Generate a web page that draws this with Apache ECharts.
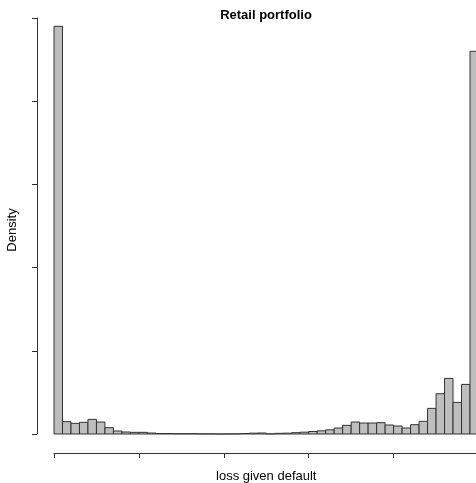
<!DOCTYPE html>
<html>
<head>
<meta charset="utf-8">
<script src="https://cdn.jsdelivr.net/npm/echarts@6/dist/echarts.min.js"></script>
<style>
  html, body { margin: 0; padding: 0; background: #fff; }
  #chart { width: 476px; height: 483px; }
</style>
</head>
<body>
<div id="chart"></div>
<script>
// histogram bin edges (loss given default)
const breaks = [
  0.00, 0.02, 0.04, 0.06, 0.08, 0.10, 0.12, 0.14, 0.16, 0.18,
  0.20, 0.22, 0.24, 0.26, 0.28, 0.30, 0.32, 0.34, 0.36, 0.38,
  0.40, 0.42, 0.44, 0.46, 0.48, 0.50, 0.52, 0.54, 0.56, 0.58,
  0.60, 0.62, 0.64, 0.66, 0.68, 0.70, 0.72, 0.74, 0.76, 0.78,
  0.80, 0.82, 0.84, 0.86, 0.88, 0.90, 0.92, 0.94, 0.96, 0.98,
  1.00
];

// density of each bin
const density = [
  24.5, 0.74, 0.64, 0.70, 0.88, 0.72, 0.38, 0.18, 0.12, 0.10,
  0.10, 0.06, 0.03, 0.03, 0.02, 0.02, 0.02, 0.01, 0.01, 0.00,
  0.005, 0.01, 0.03, 0.05, 0.06, 0.01, 0.04, 0.05, 0.08, 0.11,
  0.15, 0.19, 0.25, 0.36, 0.52, 0.72, 0.66, 0.66, 0.68, 0.54,
  0.48, 0.36, 0.56, 0.76, 1.54, 2.42, 3.34, 1.90, 2.98, 23.0
];

const xTicks = [0, 0.2, 0.4, 0.6, 0.8, 1.0];
const yTicks = [0, 5, 10, 15, 20, 25];

const bins = density.map((d, i) => [breaks[i], breaks[i + 1], d]);

const font = '"Liberation Sans", Arial, Helvetica, sans-serif';
const chart = echarts.init(document.getElementById('chart'));

chart.setOption({
  animation: false,
  title: {
    text: 'Retail portfolio',
    left: 261,
    top: 4,
    textAlign: 'center',
    textStyle: { fontFamily: font, fontSize: 13, fontWeight: 'bold', color: '#000' },
  },
  grid: {
    left: 54,
    right: -2.5,
    top: 18,
    bottom: 49,
    outerBoundsMode: 'none',
  },
  xAxis: {
    type: 'value',
    min: xTicks[0],
    max: xTicks[xTicks.length - 1],
    interval: 0.2,
    offset: 19,
    name: 'loss given default',
    nameLocation: 'middle',
    nameGap: 17,
    nameTextStyle: { fontFamily: font, fontSize: 13, color: '#000' },
    axisLine: { show: true, onZero: false, lineStyle: { color: '#333', width: 1 } },
    axisTick: { show: true, length: 5, lineStyle: { color: '#333', width: 1 } },
    axisLabel: { show: false },
    splitLine: { show: false },
  },
  yAxis: {
    type: 'value',
    min: yTicks[0],
    max: yTicks[yTicks.length - 1],
    interval: 5,
    offset: 17,
    name: 'Density',
    nameLocation: 'middle',
    nameGap: 18,
    nameTextStyle: { fontFamily: font, fontSize: 13, color: '#000', padding: [0, 8, 0, 0] },
    axisLine: { show: true, onZero: false, lineStyle: { color: '#333', width: 1 } },
    axisTick: { show: true, length: 5, lineStyle: { color: '#333', width: 1 } },
    axisLabel: { show: false },
    splitLine: { show: false },
  },
  series: [
    {
      type: 'custom',
      clip: false,
      data: bins,
      encode: { x: [0, 1], y: 2 },
      renderItem(params, api) {
        const p0 = api.coord([api.value(0), 0]);
        const p1 = api.coord([api.value(1), api.value(2)]);
        return {
          type: 'rect',
          shape: {
            x: p0[0],
            y: p1[1],
            width: p1[0] - p0[0],
            height: p0[1] - p1[1],
          },
          style: { fill: '#bebebe', stroke: '#333', lineWidth: 1 },
        };
      },
    },
  ],
});
</script>
</body>
</html>
